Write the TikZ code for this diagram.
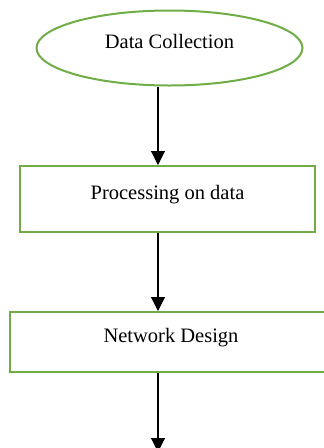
\documentclass[tikz,border=0pt]{standalone}
\usepackage{fontspec}
\setmainfont{Liberation Serif}
\usetikzlibrary{shapes.geometric,arrows.meta}
\definecolor{stepgreen}{RGB}{112,173,71}
\begin{document}
\begin{tikzpicture}[x=1pt,y=1pt,
  stage/.style={draw=stepgreen,line width=2pt,font=\fontsize{20.5}{24}\selectfont,
    text height=12pt,text depth=12pt,inner sep=0pt},
  startshape/.style={stage,ellipse,minimum width=266pt,minimum height=75pt},
  boxshape/.style={stage,rectangle},
  flow/.style={line width=1.1pt,-{Triangle[length=14pt,width=14pt]}}]
\useasboundingbox (0,0) rectangle (324,-448);
% stages of the flow
\node[startshape] (collect) at (169.5,-48) {Data Collection};
\node[boxshape,minimum width=295pt,minimum height=66pt] (process) at (167.5,-199) {Processing on data};
\node[boxshape,minimum width=322pt,minimum height=60pt] (design) at (171,-342) {Network Design\hspace{6pt}};
\coordinate (next) at (158,-452);
% connectors
\draw[flow] (collect.south -| 158,0) -- (process.north -| 158,0);
\draw[flow] (process.south -| 158,0) -- (design.north -| 158,0);
\draw[flow] (design.south -| 158,0) -- (next);
\end{tikzpicture}
\end{document}
